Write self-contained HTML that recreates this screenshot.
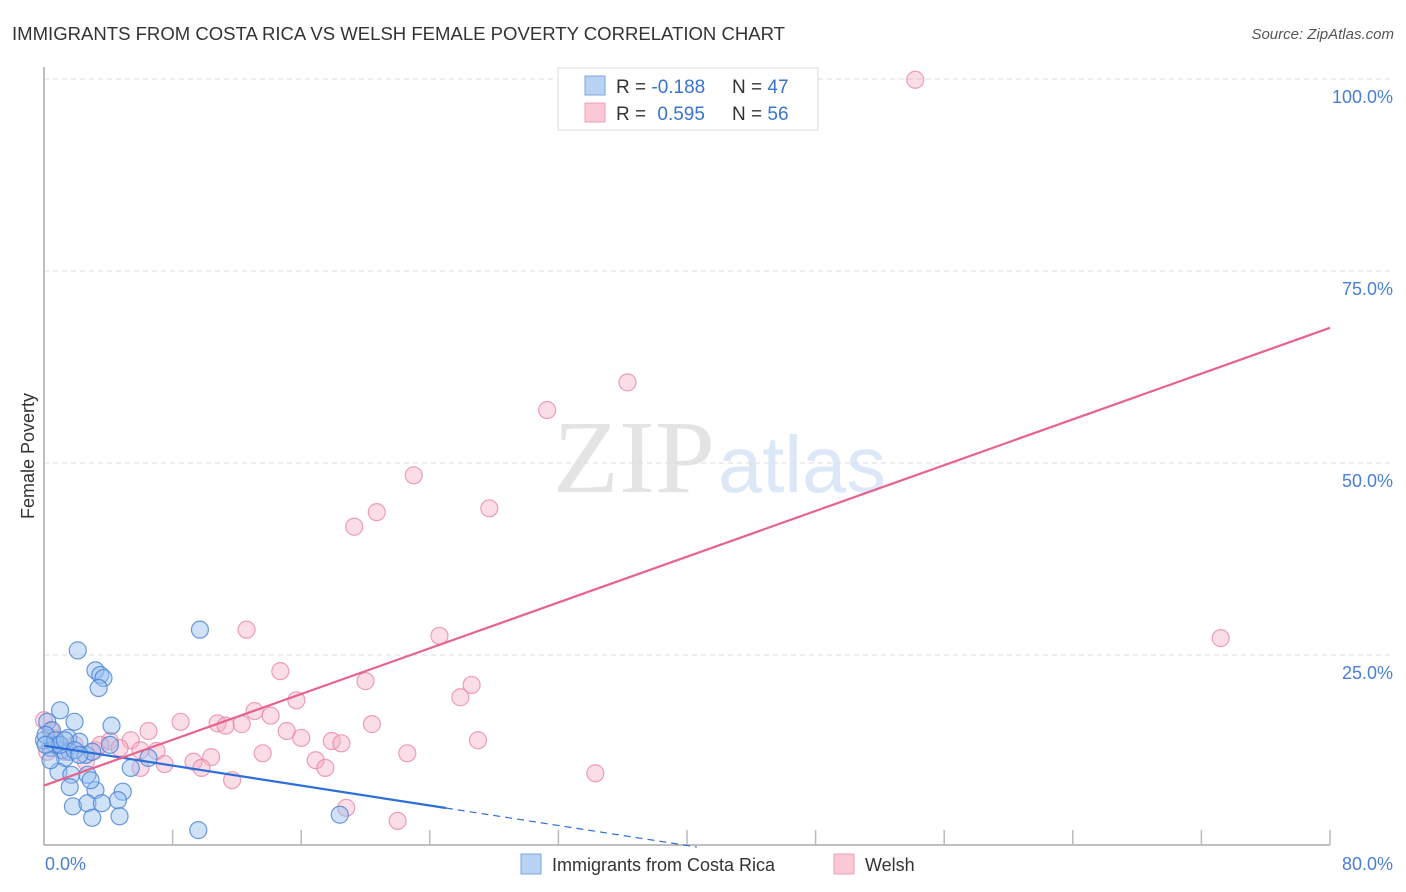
<!DOCTYPE html>
<html><head><meta charset="utf-8"><style>
html,body{margin:0;padding:0;background:#fff;}
svg{display:block;font-family:"Liberation Sans",sans-serif;}
</style></head><body>
<svg id="chart" width="1406" height="892" viewBox="0 0 1406 892">
<text x="12" y="40" font-size="18" fill="#333" textLength="773" lengthAdjust="spacingAndGlyphs">IMMIGRANTS FROM COSTA RICA VS WELSH FEMALE POVERTY CORRELATION CHART</text>
<text x="1394" y="39" font-size="15" fill="#555" font-style="italic" text-anchor="end">Source: ZipAtlas.com</text>
<g>
<text x="553" y="492" font-family="Liberation Serif,serif" font-size="104" fill="#e4e4e4" textLength="162" lengthAdjust="spacingAndGlyphs">ZIP</text>
<text x="718" y="492" font-size="80" fill="#dce8f7" textLength="168" lengthAdjust="spacingAndGlyphs">atlas</text>
</g>
<g id="grid"></g>
<line x1="44" y1="67" x2="44" y2="845" stroke="#aaa" stroke-width="1.5"/>
<line x1="44" y1="845" x2="1330" y2="845" stroke="#aaa" stroke-width="1.5"/>
<g id="xticks"></g>
<g id="ylabels"></g>
<text x="45" y="870" font-size="18" fill="#4a7fd4">0.0%</text>
<text x="1393" y="870" font-size="18" fill="#4a7fd4" text-anchor="end">80.0%</text>
<text transform="translate(34,456) rotate(-90)" font-size="18" fill="#333" text-anchor="middle">Female Poverty</text>
<g id="pts"></g>
<g id="trends"></g>
<g>
<rect x="558" y="68" width="260" height="62" fill="#fff" stroke="#ddd"/>
<rect x="585" y="76" width="20" height="19" fill="#b8d2f4" stroke="#7aa6e0"/>
<rect x="585" y="103" width="20" height="19" fill="#fbc8d6" stroke="#eea0b6"/>
<text x="616" y="93" font-size="19" fill="#333">R = <tspan fill="#3a73d0">-0.188</tspan></text>
<text x="732" y="93" font-size="19" fill="#333">N = <tspan fill="#3a73d0">47</tspan></text>
<text x="616" y="120" font-size="19" fill="#333">R = <tspan fill="#3a73d0" dx="6">0.595</tspan></text>
<text x="732" y="120" font-size="19" fill="#333">N = <tspan fill="#3a73d0">56</tspan></text>
</g>
<g>
<rect x="521" y="854" width="20" height="20" fill="#b8d2f4" stroke="#7aa6e0"/>
<text x="552" y="871" font-size="18" fill="#333">Immigrants from Costa Rica</text>
<rect x="834" y="854" width="20" height="20" fill="#fbc8d6" stroke="#eea0b6"/>
<text x="865" y="871" font-size="18" fill="#333">Welsh</text>
</g>
</svg>
<script>
const yTicks=[25,50,75,100];
const yTickLabels=["25.0%","50.0%","75.0%","100.0%"];
const xTicks=[8,16,24,32,40,48,56,64,72,80];
const blueX=[2.1,3.2,3.5,3.7,3.4,1.0,0.2,1.9,4.2,0.5,1.5,0.7,2.2,0.4,1.1,1.6,2.6,1.3,3.0,5.4,6.5,0.9,1.7,2.7,1.6,3.2,2.9,4.9,4.6,1.8,2.7,3.6,3.0,4.7,9.7,9.6,18.4,0.0,0.1,0.7,1.0,1.3,1.9,2.2,4.1,0.4,0.1];
const blueY=[25.6,23.0,22.4,22.0,20.7,17.8,16.3,16.3,15.8,15.2,14.2,13.3,13.7,12.9,12.6,12.4,12.0,11.6,12.4,10.3,11.6,9.8,9.4,9.4,7.8,7.4,8.7,7.2,6.1,5.3,5.7,5.7,3.8,4.0,28.3,2.2,4.2,13.9,14.6,13.9,13.3,13.9,12.6,12.0,13.3,11.3,13.3];
const pinkX=[54.2,36.3,31.3,23.0,20.7,27.7,19.3,12.6,24.6,73.2,14.7,26.6,20.0,15.7,25.9,13.1,8.5,14.1,10.8,11.3,12.3,20.4,6.5,15.1,16.0,27.0,17.9,18.5,5.4,4.1,13.6,22.6,7.0,10.4,9.3,7.5,4.7,6.0,16.9,17.5,9.8,6.0,34.3,11.7,18.8,22.0,0.0,0.4,0.7,1.0,0.2,1.3,2.6,3.2,1.9,3.5];
const pinkY=[99.9,60.5,56.9,48.4,43.6,44.1,41.7,28.3,27.5,27.2,22.9,21.1,21.6,19.1,19.5,17.7,16.3,17.1,16.1,15.8,16.0,16.0,15.1,15.1,14.2,13.9,13.8,13.5,13.9,13.8,12.2,12.2,12.5,11.7,11.1,10.8,12.9,12.6,11.3,10.3,10.3,10.3,9.6,8.7,5.1,3.4,16.5,15.2,14.2,13.3,12.4,12.4,11.1,12.6,13.3,13.3];
const blueTrend=[13.2,-0.325];
const pinkTrend=[8.0,0.745];
const blueSolidEnd=25;
const NS="http://www.w3.org/2000/svg";
function sx(v){return 44+v/80*1286;}
function sy(v){return 847-v/100*768;}
function mk(tag,attrs,parent){const e=document.createElementNS(NS,tag);for(const k in attrs)e.setAttribute(k,attrs[k]);parent.appendChild(e);return e;}
const grid=document.getElementById('grid'),yl=document.getElementById('ylabels'),xt=document.getElementById('xticks');
yTicks.forEach((t,i)=>{
 const l=mk('line',{x1:44,x2:1394,y1:sy(t),y2:sy(t),stroke:'#ddd','stroke-dasharray':'5,4'},grid);
 
 
 const tx=mk('text',{x:1393,y:sy(t)+24,'font-size':18,fill:'#4a7fd4','text-anchor':'end'},yl);
 tx.textContent=yTickLabels[i];
 
 
});
xTicks.forEach(t=>{
 const l=mk('line',{x1:sx(t),x2:sx(t),y1:830,y2:845,stroke:'#bbb','stroke-width':1.5},xt);
 
 
});
const pts=document.getElementById('pts');
pinkX.forEach((x,i)=>{
 const c=mk('circle',{cx:sx(x),cy:sy(pinkY[i]),r:8.5,fill:'rgba(245,170,195,0.4)',stroke:'rgba(232,130,162,0.75)','stroke-width':1.2},pts);
 
 
});
blueX.forEach((x,i)=>{
 const c=mk('circle',{cx:sx(x),cy:sy(blueY[i]),r:8.5,fill:'rgba(150,190,240,0.45)',stroke:'rgba(70,130,215,0.8)','stroke-width':1.2},pts);
 
 
});
const tr=document.getElementById('trends');
const bEnd=-blueTrend[0]/blueTrend[1];
let l1=mk('line',{x1:sx(0),y1:sy(blueTrend[0]),x2:sx(blueSolidEnd),y2:sy(blueTrend[0]+blueTrend[1]*blueSolidEnd),stroke:'#2e6fd6','stroke-width':2.2},tr);


let l2=mk('line',{x1:sx(blueSolidEnd),y1:sy(blueTrend[0]+blueTrend[1]*blueSolidEnd),x2:sx(bEnd),y2:sy(0),stroke:'#2e6fd6','stroke-width':1.2,'stroke-dasharray':'7,5'},tr);


let l3=mk('line',{x1:sx(0),y1:sy(pinkTrend[0]),x2:sx(80),y2:sy(pinkTrend[0]+pinkTrend[1]*80),stroke:'#e8628e','stroke-width':2.2},tr);


</script>
</body></html>
